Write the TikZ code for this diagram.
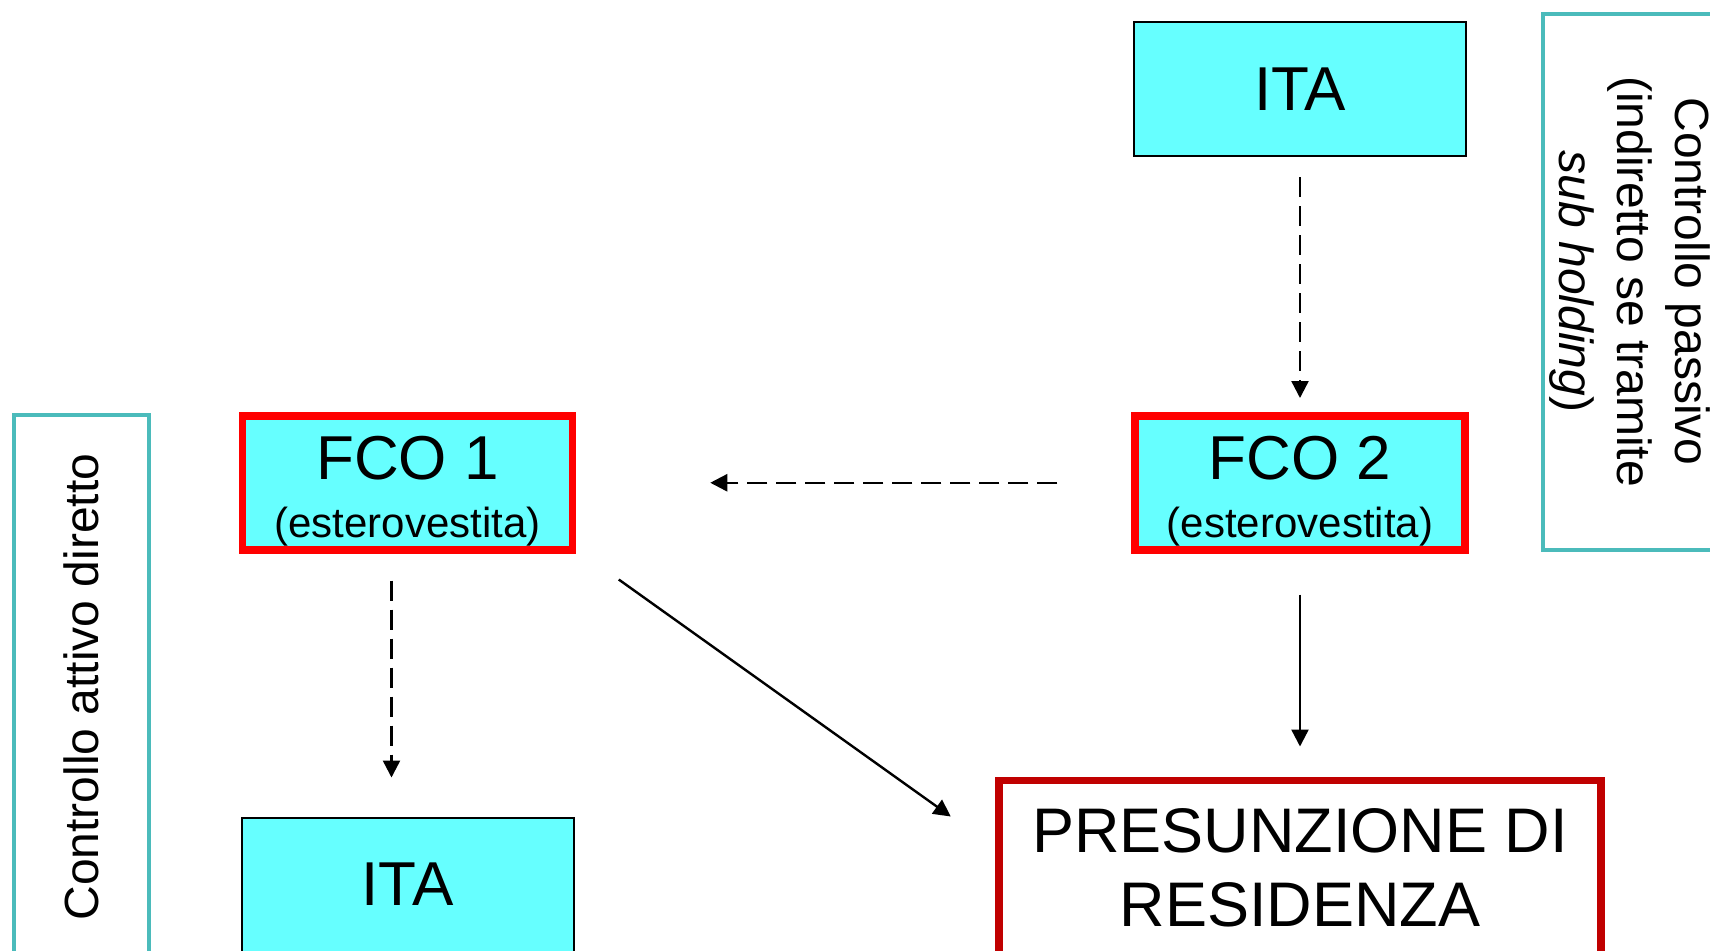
\documentclass[tikz,border=0pt]{standalone}
\usepackage{fontspec}
\setmainfont{Liberation Sans}
\usepackage{xcolor}
\definecolor{boxcyan}{HTML}{66FFFF}
\definecolor{fcored}{HTML}{FF0000}
\definecolor{resred}{HTML}{C00000}
\definecolor{ctrlteal}{RGB}{75,187,187}
\usepackage{tikz}
\usetikzlibrary{positioning,arrows.meta}
\newcommand{\toppad}{\rule{0pt}{29.6pt}}

\begin{document}
\begin{tikzpicture}[x = 0.5pt, y = -0.5pt, company/.style={
					rectangle, minimum width = 166pt, minimum height = 67pt, inner sep = 0pt,
					draw = black, line width = 1pt, fill = boxcyan, align = center,
					font = \fontsize{31}{29}\selectfont},
		foreign/.style={company, draw = fcored, line width = 3.75pt, minimum width = 165pt},
		result/.style={rectangle, minimum width = 301pt, minimum height = 88pt, inner sep = 0pt,
					draw = resred, line width = 3.75pt, fill = white, align = center,
					font = \fontsize{31.5}{37}\selectfont},
		ctrlbox/.style={rectangle, inner sep = 0pt, draw = ctrlteal, line width = 2pt,
					align = center, font = \fontsize{24}{29}\selectfont},
		link/.style={line width = 1.2pt, -{Triangle[length=8.5pt,width=8.5pt]}},
		dashlink/.style={link, dash pattern = on 10pt off 4.5pt}]
		\useasboundingbox (0,0) rectangle (1710,950);
		\node (ITA) [company] at (1300,89) {ITA};
		\node (FCO2) [foreign, below=127.5pt of ITA] {\toppad FCO 2\\{\fontsize{21}{25}\selectfont (esterovestita)}};
		\node (FCO1) [foreign, left=277.5pt of FCO2] {\toppad FCO 1\\{\fontsize{21}{25}\selectfont (esterovestita)}};
		\node (ITB) [company, below=131.5pt of FCO1] {ITA};
		\node (PR) [result, below=111.5pt of FCO2] {PRESUNZIONE DI\\RESIDENZA};
		\node (CA) [ctrlbox, rotate=90, minimum width = 272.5pt, minimum height = 67.25pt] at (81.5,687) {Controllo attivo diretto};
		\node (CP) [ctrlbox, rotate=-90, minimum width = 268pt, minimum height = 87pt] at (1629.5,281.5) {Controllo passivo\\(indiretto se tramite\\\textit{sub holding})};
		% collegamenti
		\draw [dashlink, shorten <=10pt, shorten >=7pt] (ITA) -- (FCO2);
		\draw [dashlink, shorten <=37pt, shorten >=67pt] (FCO2) -- (FCO1);
		\draw [link, shorten <=20.5pt, shorten >=15pt] (FCO2) -- (PR);
		\draw [dashlink] ([xshift=-8pt,yshift=-13.5pt]FCO1.south) -- ([xshift=-8pt,yshift=19.5pt]ITB.north);
		\draw [link] ([xshift=21.25pt,yshift=-13pt]FCO1.south east) -- ([xshift=-22.25pt,yshift=-20pt]PR.north west);
	\end{tikzpicture}
\end{document}
